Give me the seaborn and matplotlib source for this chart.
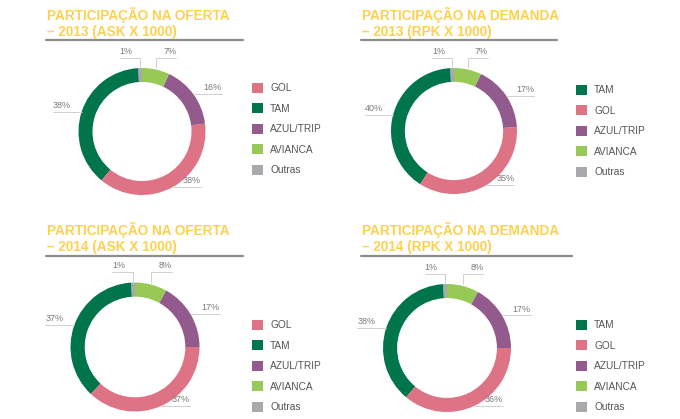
import matplotlib
matplotlib.use("Agg")
import matplotlib.pyplot as plt
from matplotlib.patches import Patch
from matplotlib.lines import Line2D
import seaborn as sns
import numpy as np

# Dados (participação de mercado, %)
airlines = ['GOL', 'TAM', 'AZUL/TRIP', 'AVIANCA', 'Outras']
oferta_2013 = [38, 38, 16, 7, 1]
demanda_2013 = [35, 40, 17, 7, 1]
oferta_2014 = [37, 37, 17, 8, 1]
demanda_2014 = [36, 38, 17, 8, 1]

titles = [
    'PARTICIPAÇÃO NA OFERTA\n– 2013 (ASK X 1000)',
    'PARTICIPAÇÃO NA DEMANDA\n– 2013 (RPK X 1000)',
    'PARTICIPAÇÃO NA OFERTA\n– 2014 (ASK X 1000)',
    'PARTICIPAÇÃO NA DEMANDA\n– 2014 (RPK X 1000)',
]

# ordem das fatias no anel (anti-horário a partir do topo)
ring_order = ['Outras', 'TAM', 'GOL', 'AZUL/TRIP', 'AVIANCA']

colors = {
    'GOL': '#DE7386',
    'TAM': '#00744A',
    'AZUL/TRIP': '#935A8D',
    'AVIANCA': '#98C956',
    'Outras': '#A8A9AC',
}

sns.set_theme(style="white")
plt.rcParams['font.family'] = ['Liberation Sans', 'DejaVu Sans']

W, H = 680, 419
fig = plt.figure(figsize=(W / 100, H / 100), dpi=100)

# layout em pixels: (titulo x, titulo y, fim sublinhado, y sublinhado, centro x, centro y, raio, legenda x, legenda y)
panels = [
    (oferta_2013, titles[0], 47, 7, 243, 40, 142, 131.5, 63.5, 252, 83),
    (demanda_2013, titles[1], 362, 7, 557, 40, 454, 131, 63, 576, 85),
    (oferta_2014, titles[2], 47, 222, 243, 256, 135, 347, 64.5, 252, 320),
    (demanda_2014, titles[3], 362, 222, 572, 256, 447, 348, 64, 576, 320),
]

lim = 1.6
for vals, title, tx, ty, ux, uy, cx, cy, r, lx, ly in panels:
    share = dict(zip(airlines, vals))

    # titulo + sublinhado
    fig.text(tx / W, 1 - ty / H, title, color='#FDD14F', fontsize=9.8,
             fontweight='bold', ha='left', va='top', linespacing=1.18)
    fig.add_artist(Line2D([(tx - 1) / W, ux / W], [1 - uy / H, 1 - uy / H],
                          color='#8C8C8C', lw=1.6, transform=fig.transFigure))

    size = 2 * lim * r
    ax = fig.add_axes([(cx - size / 2) / W, (H - cy - size / 2) / H, size / W, size / H])
    wedges, _ = ax.pie([share[a] for a in ring_order],
                       colors=[colors[a] for a in ring_order],
                       startangle=90, counterclock=True,
                       wedgeprops=dict(width=0.22, linewidth=0))
    ax.set_xlim(-lim, lim)
    ax.set_ylim(-lim, lim)
    ax.axis('off')

    # rótulos com linhas de chamada
    for w, a in zip(wedges, ring_order):
        mid = np.deg2rad((w.theta1 + w.theta2) / 2)
        px, py = np.cos(mid), np.sin(mid)
        sgn = 1 if px >= 0 else -1
        if py > 0.9:
            ey = 1.16
            xs = [px, px, px + sgn * 0.32]
            ys = [1.0, ey, ey]
        else:
            ey = py
            xs = [px, px + sgn * 0.45]
            ys = [py, py]
        ax.plot(xs, ys, color='#C9C9C9', lw=0.6, clip_on=False)
        ax.text(xs[-1], ey + 0.03, f'{share[a]}%', fontsize=6.5, color='#7A7A7A',
                ha='right' if sgn > 0 else 'left', va='bottom')

    # legenda ordenada por participação
    leg_items = sorted(airlines, key=lambda a: -share[a])
    handles = [Patch(facecolor=colors[a], edgecolor='none') for a in leg_items]
    ax.legend(handles, leg_items, loc='upper left',
              bbox_to_anchor=(lx / W, 1 - ly / H), bbox_transform=fig.transFigure,
              frameon=False, fontsize=7.3, handlelength=1.1, handleheight=1.1,
              handletextpad=0.7, labelspacing=1.0, borderpad=0, borderaxespad=0,
              labelcolor='#555555')

fig.savefig('out.png', dpi=100)
